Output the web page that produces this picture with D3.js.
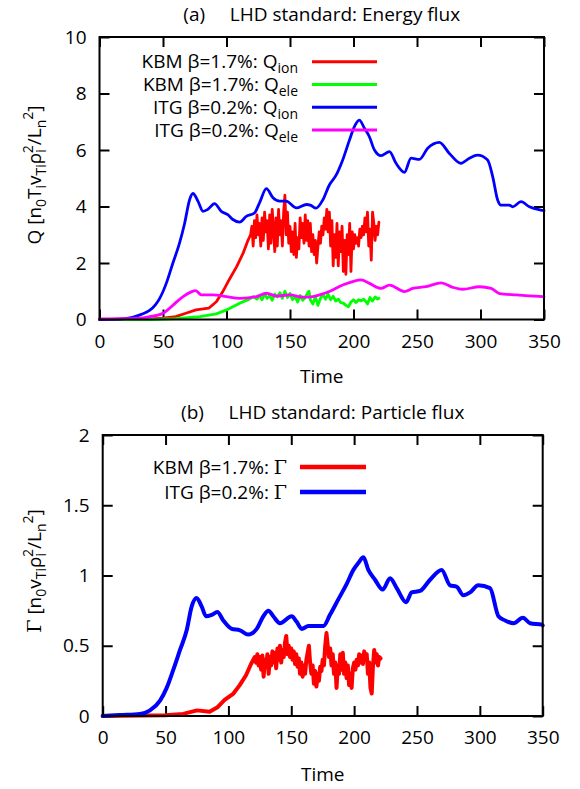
<!DOCTYPE html>
<html><head><meta charset="utf-8">
<script src="https://cdn.jsdelivr.net/npm/d3@7"></script>
<style>
body{margin:0;background:#fff}
svg text{font-family:"Open Sans",sans-serif;fill:#000}
</style>
</head><body>
<svg id="chart" width="580" height="789"></svg>
<script>
// ---- tick values ----
const timeTicks = [0, 50, 100, 150, 200, 250, 300, 350];
const energyTicks = [0, 2, 4, 6, 8, 10];
const particleTicks = [0, 0.5, 1, 1.5, 2];

// ---- (a) energy flux series: [time, Q] ----
const kbmQion = [[0,0],[20,0.01],[40,0.02],[50,0.05],[60,0.1],[68,0.22],[76,0.34],[86,0.4],[92,0.63],[97,0.98],[102,1.4],[108,1.87],[113,2.34],[117,2.81],[119,3.0],[120,3.3],[121,2.6],[122,3.5],[123,2.9],[124,3.7],[125,3.0],[126,3.4],[127,2.6],[128,3.6],[129,2.8],[130,3.8],[131,3.1],[132,3.5],[133,2.5],[134,3.7],[135,2.7],[136,3.9],[137,3.2],[138,2.4],[139,3.6],[140,2.6],[141,3.9],[142,3.0],[143,3.5],[144,2.6],[145,3.8],[146,4.4],[147,3.0],[148,3.8],[149,2.7],[150,3.3],[151,2.4],[152,3.1],[153,2.3],[154,3.4],[155,2.2],[156,2.9],[157,2.5],[158,3.6],[159,2.9],[160,3.4],[161,2.7],[162,3.7],[163,2.8],[164,3.5],[165,2.6],[166,3.4],[167,2.4],[168,3.0],[169,2.3],[170,2.8],[171,2.0],[172,2.6],[173,3.1],[174,2.7],[175,3.3],[176,3.0],[177,3.6],[178,3.2],[179,3.9],[180,3.1],[181,3.8],[182,2.6],[183,3.5],[184,1.9],[185,3.0],[186,2.2],[187,3.4],[188,1.9],[189,3.1],[190,2.4],[191,3.3],[192,1.7],[193,2.8],[194,1.6],[195,3.0],[196,2.3],[197,3.4],[198,1.7],[199,3.1],[200,2.5],[201,3.0],[202,2.7],[203,2.9],[204,2.6],[205,3.2],[206,2.9],[207,3.3],[208,3.0],[209,3.6],[210,3.1],[211,3.8],[212,2.6],[213,3.2],[214,2.1],[215,3.8],[216,3.4],[217,2.8],[218,3.3],[219,3.0],[220,3.45]];
const kbmQele = [[0,0],[40,0],[60,0.03],[79,0.1],[92,0.2],[100,0.34],[110,0.57],[118,0.72],[121,0.81],[124,0.72],[126,0.85],[128,0.7],[130,0.9],[132,0.75],[134,0.85],[136,0.68],[138,0.9],[140,0.8],[142,0.95],[144,0.75],[146,1.0],[148,0.78],[150,0.92],[152,0.7],[154,0.82],[156,0.62],[158,0.85],[160,0.68],[162,0.78],[164,0.95],[165,1.0],[166,0.7],[168,0.55],[170,0.8],[172,0.5],[174,0.75],[176,0.88],[178,0.72],[180,0.9],[182,0.7],[184,0.82],[186,0.65],[188,0.72],[190,0.6],[192,0.58],[194,0.5],[196,0.45],[198,0.62],[200,0.7],[202,0.6],[204,0.7],[206,0.66],[208,0.72],[210,0.62],[211,0.55],[213,0.78],[215,0.65],[217,0.8],[219,0.72],[220,0.75]];
const itgQion = [[0,0],[10,0.005],[20,0.03],[26,0.08],[33,0.18],[39.4,0.32],[44,0.52],[47.3,0.74],[52.5,1.27],[57.8,2.0],[63,2.7],[67,3.4],[71,4.25],[73.6,4.46],[77.5,4.19],[81.5,3.83],[85.4,3.9],[90.6,4.1],[95.9,3.83],[101,3.71],[105,3.54],[110.4,3.45],[115.6,3.65],[122,3.77],[126,4.13],[131.4,4.63],[136.6,4.31],[141.9,4.19],[147,4.19],[155,3.95],[163,4.07],[166,4.05],[170.5,3.94],[175.8,4.23],[181,4.76],[186.3,5.11],[191.5,5.65],[196.8,6.35],[200.7,6.83],[204.6,7.06],[208.6,6.77],[212.5,6.47],[216.5,6.0],[221.7,5.8],[228.3,5.94],[233.5,5.53],[240.1,5.21],[245.3,5.71],[251.9,5.67],[258.4,6.06],[267.6,6.27],[275.5,5.88],[284.6,5.53],[291.2,5.71],[297.7,5.82],[305.6,5.65],[309.6,5.06],[313.5,4.23],[316.1,4.05],[322.7,4.05],[325.3,3.99],[331.9,4.17],[338.5,3.99],[347.7,3.87],[350,3.85]];
const itgQele = [[0,0.02],[30,0.04],[39.6,0.1],[50,0.22],[57.9,0.51],[65.8,0.81],[72.3,0.98],[75.7,1.02],[80.2,0.87],[89.4,0.87],[99.9,0.81],[110.4,0.75],[123.5,0.81],[131.4,0.93],[139.3,0.83],[149.8,0.87],[160.3,0.79],[168,0.81],[173.2,0.87],[181,0.99],[191.5,1.22],[199.4,1.34],[206,1.4],[212.5,1.28],[221.7,1.1],[228.3,1.22],[240.1,0.99],[246.6,1.1],[257.1,1.16],[269,1.3],[278.2,1.14],[286.1,1.07],[299.2,1.16],[308.4,1.1],[315,0.92],[328.1,0.87],[349,0.81],[350,0.81]];

// ---- (b) particle flux series: [time, Gamma] ----
const kbmGamma = [[0,0],[50,0.005],[64,0.015],[75,0.04],[85,0.03],[91,0.06],[97,0.115],[104,0.16],[109,0.22],[114,0.29],[118,0.37],[121,0.42],[122,0.38],[123,0.44],[124,0.36],[125,0.42],[126,0.33],[127,0.43],[128,0.28],[129,0.4],[130,0.35],[131,0.44],[132,0.3],[133,0.42],[134,0.36],[135,0.46],[136,0.38],[137,0.45],[138,0.34],[139,0.48],[140,0.4],[141,0.5],[142,0.38],[143,0.47],[144,0.42],[145,0.52],[146,0.57],[147,0.44],[148,0.5],[149,0.42],[150,0.48],[151,0.4],[152,0.46],[153,0.37],[154,0.44],[155,0.35],[156,0.41],[157,0.3],[158,0.38],[159,0.28],[160,0.36],[161,0.3],[162,0.4],[163,0.45],[164,0.5],[165,0.38],[166,0.3],[167,0.36],[168,0.23],[169,0.32],[170,0.21],[171,0.3],[172,0.25],[173,0.35],[174,0.32],[175,0.4],[176,0.36],[177,0.5],[178,0.59],[179,0.5],[180,0.42],[181,0.48],[182,0.36],[183,0.44],[184,0.3],[185,0.38],[186,0.2],[187,0.36],[188,0.3],[189,0.44],[190,0.33],[191,0.45],[192,0.3],[193,0.38],[194,0.27],[195,0.36],[196,0.22],[197,0.3],[198,0.2],[199,0.34],[200,0.38],[201,0.33],[202,0.4],[203,0.36],[204,0.44],[205,0.38],[206,0.43],[207,0.37],[208,0.46],[209,0.4],[210,0.44],[211,0.3],[212,0.38],[213,0.2],[214,0.16],[215,0.36],[216,0.47],[217,0.38],[218,0.44],[219,0.36],[220,0.42],[221,0.41]];
const itgGamma = [[0,0],[13.8,0.007],[29.7,0.015],[37.6,0.04],[45.6,0.11],[50.9,0.2],[56.2,0.33],[61.5,0.47],[66.8,0.61],[70.8,0.78],[74.7,0.84],[78.7,0.78],[82.2,0.71],[86.7,0.72],[91.2,0.74],[95.9,0.68],[102.6,0.62],[109.2,0.61],[115.8,0.58],[122.5,0.62],[127.8,0.71],[131.8,0.75],[135.7,0.71],[141,0.66],[150.3,0.71],[154.3,0.67],[158.3,0.62],[163.6,0.64],[175.5,0.64],[180.8,0.72],[187.4,0.83],[194.1,0.94],[199.4,1.04],[203.4,1.09],[207.4,1.13],[211.3,1.04],[216.6,0.97],[222.7,0.9],[228.6,0.98],[233.9,0.91],[241.3,0.81],[245.8,0.88],[252.4,0.89],[260.4,0.97],[269.6,1.04],[276.3,0.93],[281.6,0.92],[286.9,0.86],[292.2,0.88],[298.8,0.93],[308.1,0.91],[314.8,0.71],[320.1,0.68],[326.8,0.66],[334.2,0.7],[340,0.66],[349.4,0.65],[350,0.645]];

const svg = d3.select("#chart");
const SERIF = "'DejaVu Serif','Liberation Serif',serif";
const FS = 19;

// Rich text: parts are [text, mode, extra] with mode null|"sub"|"sup"
function rich(textSel, parts) {
  let cur = 0;
  const shift = {base: 0, sub: 5, sup: -8};
  parts.forEach(([t, mode, extra]) => {
    const target = shift[mode || "base"];
    const ts = textSel.append("tspan").text(t);
    if (target !== cur) ts.attr("dy", target - cur);
    cur = target;
    if (mode) ts.attr("font-size", 14);
    if (extra && extra.dx) ts.attr("dx", extra.dx);
    if (extra && extra.serif) ts.attr("font-family", SERIF);
  });
}

function drawPanel(cfg) {
  const x = d3.scaleLinear().domain([0, 350]).range([cfg.left, cfg.right]);
  const y = d3.scaleLinear().domain([0, cfg.yMax]).range([cfg.bottom, cfg.top]);
  const g = svg.append("g");

  // axes with inward ticks, mirrored on top and right
  const ax = g.append("g").attr("transform", `translate(0,${cfg.bottom})`)
    .call(d3.axisBottom(x).tickValues(timeTicks).tickSizeInner(-10).tickSizeOuter(0).tickPadding(15).tickFormat(d3.format("d")));
  const ay = g.append("g").attr("transform", `translate(${cfg.left},0)`)
    .call(d3.axisLeft(y).tickValues(cfg.yTicks).tickSizeInner(-10).tickSizeOuter(0).tickPadding(13).tickFormat(cfg.yFormat));
  const at = g.append("g").attr("transform", `translate(0,${cfg.top})`)
    .call(d3.axisTop(x).tickValues(timeTicks).tickSizeInner(-10).tickSizeOuter(0).tickFormat(""));
  const ar = g.append("g").attr("transform", `translate(${cfg.right},0)`)
    .call(d3.axisRight(y).tickValues(cfg.yTicks).tickSizeInner(-10).tickSizeOuter(0).tickFormat(""));
  [ax, ay, at, ar].forEach(a => {
    a.select(".domain").remove();
    a.selectAll(".tick line").attr("stroke", "#000").attr("stroke-width", 2);
    a.selectAll("text").attr("font-size", FS).attr("font-family", "'Open Sans',sans-serif").attr("fill", "#000");
  });

  // series lines with their legend samples
  const line = d3.line().x(d => x(d[0])).y(d => y(d[1]));
  cfg.series.forEach((s, i) => {
    g.append("path").datum(s.data)
      .attr("fill", "none").attr("stroke", s.color).attr("stroke-width", s.width)
      .attr("stroke-linejoin", "round").attr("stroke-linecap", "round")
      .attr("d", line.curve(s.smooth ? d3.curveMonotoneX : d3.curveLinear));
    const ly = cfg.legendY + i * cfg.legendGap;
    const t = g.append("text").attr("x", cfg.legendTextX).attr("y", ly + 6.5)
      .attr("text-anchor", "end").attr("font-size", FS);
    rich(t, s.label);
    g.append("line").attr("x1", cfg.legendLine[0]).attr("x2", cfg.legendLine[1])
      .attr("y1", ly).attr("y2", ly).attr("stroke", s.color).attr("stroke-width", s.legendWidth);
  });

  // frame
  g.append("rect").attr("x", cfg.left).attr("y", cfg.top)
    .attr("width", cfg.right - cfg.left).attr("height", cfg.bottom - cfg.top)
    .attr("fill", "none").attr("stroke", "#000").attr("stroke-width", 2);

  // title, x label, y label
  g.append("text").attr("x", (cfg.left + cfg.right) / 2).attr("y", cfg.titleY)
    .attr("text-anchor", "middle").attr("font-size", FS).attr("xml:space", "preserve").text(cfg.title);
  g.append("text").attr("x", (cfg.left + cfg.right) / 2).attr("y", cfg.xLabelY)
    .attr("text-anchor", "middle").attr("font-size", FS).text("Time");
  const yl = g.append("text").attr("text-anchor", "middle").attr("font-size", FS)
    .attr("transform", `translate(${cfg.yLabelX},${cfg.yLabelY}) rotate(-90)`);
  rich(yl, cfg.yLabel);
}

const lblQion = (p) => [[p + " β=" + (p === "KBM" ? "1.7" : "0.2") + "%: Q"], ["ion", "sub"]];
const lblQele = (p) => [[p + " β=" + (p === "KBM" ? "1.7" : "0.2") + "%: Q"], ["ele", "sub"]];

drawPanel({
  top: 37, bottom: 319.5, left: 99.5, right: 544, yMax: 10,
  yTicks: energyTicks, yFormat: d3.format("d"),
  title: "(a)     LHD standard: Energy flux", titleY: 21, xLabelY: 383,
  yLabelX: 41, yLabelY: 175,
  yLabel: [["Q [n"], ["0", "sub"], ["T"], ["i", "sub"], ["v"], ["Ti", "sub"], ["ρ"], ["i", "sub"], ["2", "sup", {dx: -4}], ["/L"], ["n", "sub"], ["2", "sup"], ["]"]],
  legendTextX: 298, legendLine: [312, 377], legendY: 61.7, legendGap: 22.8,
  series: [
    {data: kbmQion, color: "#ff0000", width: 2.8, legendWidth: 3, label: lblQion("KBM")},
    {data: kbmQele, color: "#00ff00", width: 2.8, legendWidth: 3, label: lblQele("KBM")},
    {data: itgQion, color: "#0000ff", width: 2.8, legendWidth: 3, smooth: true, label: lblQion("ITG")},
    {data: itgQele, color: "#ff00ff", width: 2.8, legendWidth: 3, smooth: true, label: lblQele("ITG")}
  ]
});

drawPanel({
  top: 435, bottom: 716, left: 102.7, right: 542.7, yMax: 2,
  yTicks: particleTicks, yFormat: d => String(d),
  title: "(b)     LHD standard: Particle flux", titleY: 419, xLabelY: 781,
  yLabelX: 41, yLabelY: 571,
  yLabel: [["Γ", null, {serif: true}], [" [n"], ["0", "sub"], ["v"], ["Ti", "sub"], ["ρ"], ["i", "sub"], ["2", "sup", {dx: -4}], ["/L"], ["n", "sub"], ["2", "sup"], ["]"]],
  legendTextX: 287, legendLine: [300, 366], legendY: 467, legendGap: 25,
  series: [
    {data: kbmGamma, color: "#ff0000", width: 4, legendWidth: 4.5, label: [["KBM β=1.7%: "], ["Γ", null, {serif: true}]]},
    {data: itgGamma, color: "#0000ff", width: 4, legendWidth: 4.5, smooth: true, label: [["ITG β=0.2%: "], ["Γ", null, {serif: true}]]}
  ]
});
</script>
</body></html>
